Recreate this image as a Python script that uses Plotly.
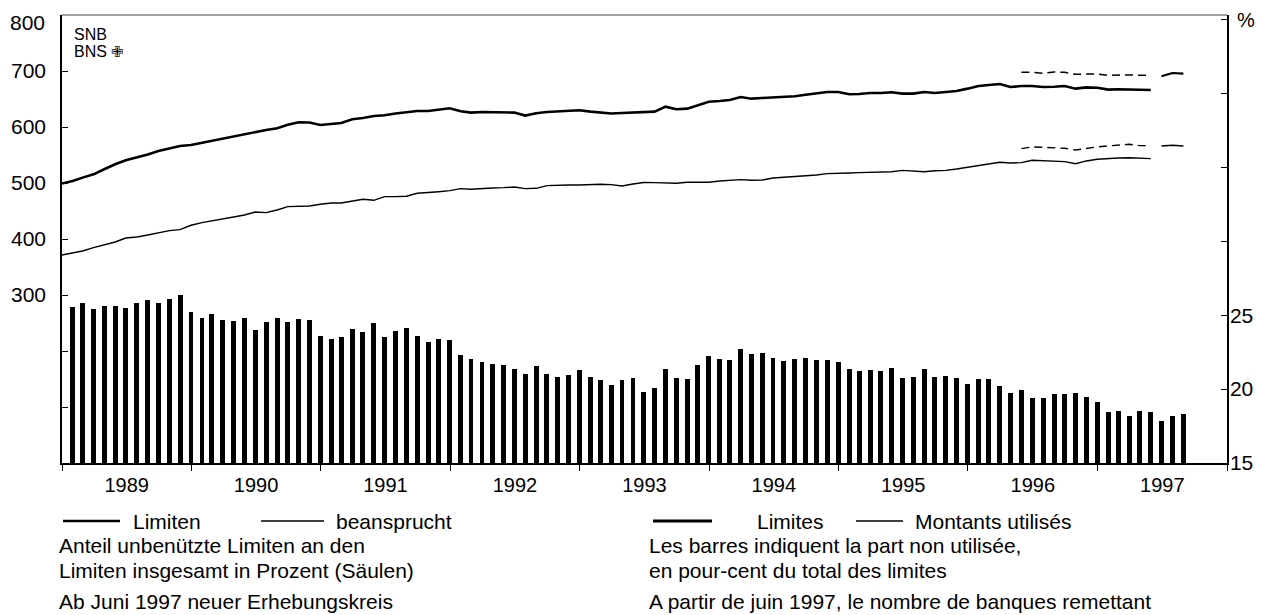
import pandas as pd
import plotly.graph_objects as go

# ---------------- data ----------------
# month-end positions: index 0 = end Dec 1988 ... index 104 = end Aug 1997
month_ends = pd.date_range(start="1988-12-31", periods=105, freq=pd.offsets.MonthEnd())

# Limiten (bn CHF), old survey, Dec 1988 .. May 1997
limits_old = [499, 503.6, 509.6, 515.5, 524.5, 533.4, 540.5, 545.3, 551, 557,
              562, 566, 568, 572, 575.7, 579, 583, 586.4, 590.5, 594.6,
              597.7, 604, 608.4, 608, 603.6, 605.4, 607, 614, 616, 619.6,
              621, 624, 626.8, 628.6, 628.6, 630.4, 633.4, 628, 625.7, 626.8,
              626.2, 626.2, 625.7, 620.4, 624.5, 626.8, 627.4, 628.6, 629.8, 627.4,
              625.7, 624, 625, 625.7, 626, 627.4, 636.3, 631.6, 632.8, 638.7,
              645.2, 646.4, 648.2, 653.6, 650.6, 651.8, 652.4, 653, 654.8, 657.7,
              660.7, 662.5, 662.5, 658.4, 659, 660.7, 660.7, 662, 659.6, 659.6,
              662.5, 660.7, 662.5, 664.3, 668.5, 673.2, 675, 676.8, 671.4, 673.2,
              673.2, 671.4, 672, 673.2, 668.5, 670.8, 670.2, 666.8, 667.4, 667.4,
              666.8, 666.2]

# beansprucht (used amounts), old survey, Dec 1988 .. May 1997
used_old = [371.4, 375.7, 378.6, 384.6, 389.3, 394.6, 401.8, 403.6, 407.1, 411.4,
            415, 416.8, 424.5, 429.3, 432.8, 436.4, 439.3, 442.9, 448.2, 447.1,
            451.8, 457.9, 459, 459, 462, 464.3, 464.3, 467.9, 470.9, 469.1,
            475.7, 475.7, 476.3, 481.6, 482.7, 484.5, 486.3, 490, 488.8, 490.5,
            491.1, 491.7, 492.9, 490, 490.5, 495.4, 496.5, 496.5, 496.5, 497.7,
            497.7, 497.1, 494.6, 498.2, 501, 500.7, 500.7, 499.5, 501.3, 501.3,
            501.3, 503.6, 504.8, 506, 504.8, 505.4, 508.9, 510.1, 510.7, 512.5,
            514.3, 516.7, 516.7, 517.9, 518.5, 519, 519.6, 520.2, 522.6, 520.8,
            520.2, 522, 522.6, 525, 528, 531, 533.4, 537, 535.7, 536.3,
            540.5, 540, 538.8, 538.2, 534.5, 539.4, 542.3, 544.1, 544.6, 545.2,
            544.1, 543.5]

# new survey group, May 1996 .. May 1997 (dashed)
limits_new_back = [697.7, 697.7, 696, 698.3, 697.7, 694, 694.6, 694.6, 692.3, 692.9,
                   692.9, 692.3, 692.3]
used_new_back = [561.4, 564.4, 563.8, 562.6, 562, 559, 562, 564.4, 566.2, 567.4,
                 569.1, 566.8, 566.8]
# new survey group, Jun .. Aug 1997
limits_new = [690.5, 696.4, 695.3]
used_new = [566.2, 567.4, 566.2]

# unused share of limits in percent (bars), Jan 1989 .. Aug 1997
unused_pct = [25.54, 25.85, 25.43, 25.61, 25.63, 25.47, 25.81, 26.04, 25.81, 26.08, 26.33, 25.18,
              24.84, 25.09, 24.66, 24.59, 24.82, 23.98, 24.57, 24.82, 24.57, 24.73, 24.64, 23.58,
              23.40, 23.49, 24.05, 23.85, 24.50, 23.49, 23.92, 24.14, 23.60, 23.21, 23.40, 23.33,
              22.29, 22.04, 21.86, 21.68, 21.63, 21.34, 21.00, 21.59, 21.05, 20.84, 20.93, 21.27,
              20.84, 20.62, 20.30, 20.62, 20.73, 19.79, 20.06, 21.36, 20.73, 20.67, 21.66, 22.27,
              22.04, 21.97, 22.70, 22.36, 22.47, 22.09, 21.89, 22.06, 22.09, 21.97, 21.97, 21.86,
              21.36, 21.23, 21.32, 21.23, 21.43, 20.75, 20.82, 21.34, 20.80, 20.91, 20.75, 20.35,
              20.69, 20.71, 20.21, 19.76, 19.92, 19.38, 19.38, 19.69, 19.69, 19.76, 19.49, 19.15,
              18.43, 18.54, 18.20, 18.50, 18.47, 17.84, 18.16, 18.30]

left_tickvals = [0, 100, 200, 300, 400, 500, 600, 700, 800]
left_ticktext = ["", "", "", "300", "400", "500", "600", "700", ""]
top_left_label = "800"
right_tickvals = [15, 20, 25, 30, 35, 40, 45]
right_ticktext = ["15", "20", "25", "", "", "", ""]

# ---------------- figure ----------------
FONT = "Liberation Sans, Arial, sans-serif"
OFF = 8                       # page body margin of the html page
W, H = 1265 - OFF, 615 - OFF
PLOT_L, PLOT_R, PLOT_T, PLOT_B = 62, 1227, 15, 463   # plot area in window pixels
L = PLOT_L - OFF
T = PLOT_T - OFF
R = W - (PLOT_R - OFF)
B = H - (PLOT_B - OFF)
PW, PH = PLOT_R - PLOT_L, PLOT_B - PLOT_T


def px(x):
    return (x - PLOT_L) / PW


def py(y):
    return (PLOT_B - y) / PH


n_old = len(limits_old)
x_old = month_ends[:n_old]
x_back = month_ends[n_old - len(limits_new_back):n_old]
x_new = month_ends[n_old:n_old + len(limits_new)]
x_bars = month_ends[1:1 + len(unused_pct)]

fig = go.Figure()

fig.add_trace(go.Bar(x=x_bars, y=unused_pct, yaxis="y2", width=14 * 86400000,
                     marker=dict(color="black", line=dict(width=0)), name="Säulen"))

fig.add_trace(go.Scatter(x=x_old, y=limits_old, mode="lines",
                         line=dict(color="black", width=2.6), name="Limiten"))
fig.add_trace(go.Scatter(x=x_old, y=used_old, mode="lines",
                         line=dict(color="black", width=1.4), name="beansprucht"))
fig.add_trace(go.Scatter(x=x_back, y=limits_new_back, mode="lines",
                         line=dict(color="black", width=1.5, dash="8px,5px"), name="Limiten neu"))
fig.add_trace(go.Scatter(x=x_back, y=used_new_back, mode="lines",
                         line=dict(color="black", width=1.4, dash="8px,5px"), name="beansprucht neu"))
fig.add_trace(go.Scatter(x=x_new, y=limits_new, mode="lines",
                         line=dict(color="black", width=2.2), name="Limiten neu 97"))
fig.add_trace(go.Scatter(x=x_new, y=used_new, mode="lines",
                         line=dict(color="black", width=1.4), name="beansprucht neu 97"))

fig.update_layout(
    width=W, height=H, autosize=False,
    margin=dict(l=L, r=R, t=T, b=B, pad=0, autoexpand=False),
    paper_bgcolor="white", plot_bgcolor="white",
    showlegend=False, bargap=0,
    font=dict(family=FONT, size=20, color="black"),
    xaxis=dict(type="date", range=["1989-01-01", "1998-01-01"], automargin=False,
               tick0="1989-01-01", dtick="M12", tickformat="%Y",
               ticklabelmode="period", ticks="outside", ticklen=6, tickwidth=1,
               tickcolor="black", showline=True, linecolor="black", linewidth=1.5,
               showgrid=False, zeroline=False, tickfont=dict(size=20),
               ticklabelstandoff=-3),
    yaxis=dict(range=[0, 800], tickvals=left_tickvals, ticktext=left_ticktext,
               automargin=False,
               ticks="inside", ticklen=6, tickwidth=1, tickcolor="black",
               showline=True, linecolor="black", linewidth=1.5,
               showgrid=False, zeroline=False, tickfont=dict(size=21),
               ticklabelstandoff=10),
    yaxis2=dict(range=[15, 45.3], tickvals=right_tickvals, ticktext=right_ticktext,
                overlaying="y", side="right", anchor="x", automargin=False,
                ticks="inside", ticklen=6, tickwidth=1, tickcolor="black",
                showline=True, linecolor="black", linewidth=1.5,
                showgrid=False, zeroline=False, tickfont=dict(size=21),
                ticklabelstandoff=-3),
)

shapes = []
# top border
shapes.append(dict(type="line", xref="paper", yref="paper", x0=0, x1=1, y0=1, y1=1,
                   line=dict(color="#444", width=1)))
# legend samples
shapes.append(dict(type="line", xref="paper", yref="paper", x0=px(63), x1=px(120),
                   y0=py(521), y1=py(521), line=dict(color="black", width=2.6)))
shapes.append(dict(type="line", xref="paper", yref="paper", x0=px(261), x1=px(324),
                   y0=py(521), y1=py(521), line=dict(color="black", width=1.3)))
shapes.append(dict(type="line", xref="paper", yref="paper", x0=px(653), x1=px(712),
                   y0=py(521), y1=py(521), line=dict(color="black", width=2.8)))
shapes.append(dict(type="line", xref="paper", yref="paper", x0=px(856), x1=px(903),
                   y0=py(521), y1=py(521), line=dict(color="black", width=1.3)))
fig.update_layout(shapes=shapes)

ann = []


def text(x, y, s, size=21, xanchor="left"):
    ann.append(dict(x=px(x), y=py(y), xref="paper", yref="paper", text=s,
                    showarrow=False, xanchor=xanchor, yanchor="middle",
                    font=dict(family=FONT, size=size, color="black"), borderpad=0))


text(46, 22, top_left_label, xanchor="right")
text(132, 521, "Limiten")
text(335, 521, "beansprucht")
text(58, 545, "Anteil unbenützte Limiten an den")
text(58, 570, "Limiten insgesamt in Prozent (Säulen)")
text(58, 601, "Ab Juni 1997 neuer Erhebungskreis")
text(756, 521, "Limites")
text(914, 521, "Montants utilisés")
text(648, 545, "Les barres indiquent la part non utilisée,")
text(648, 570, "en pour-cent du total des limites")
text(648, 601, "A partir de juin 1997, le nombre de banques remettant")
text(1236, 20, "%", size=20)
# SNB / BNS logo text
text(73, 35, "SNB", size=16)
text(73, 52, "BNS", size=16)
text(110, 51, "✙", size=15)
fig.update_layout(annotations=ann)

fig.write_html("out.html")
